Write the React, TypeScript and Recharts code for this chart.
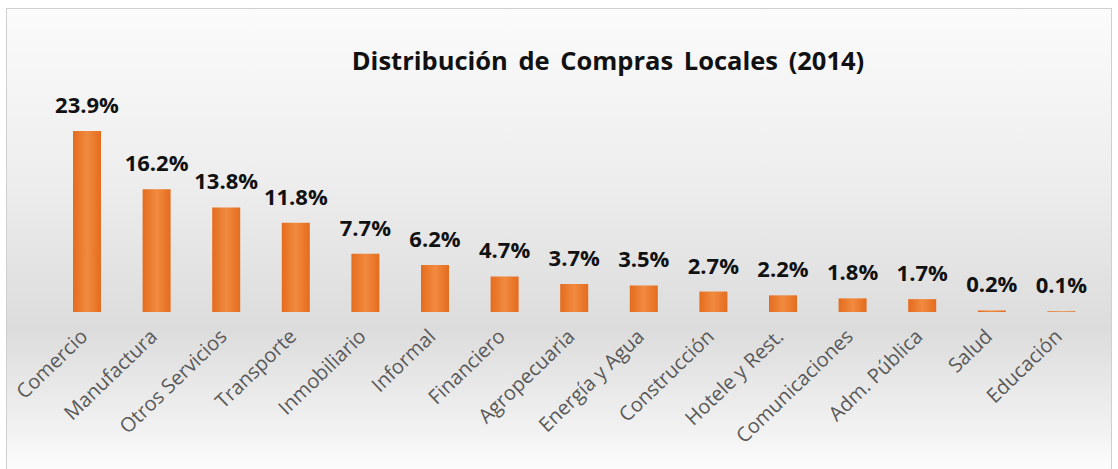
import { BarChart, Bar, XAxis, YAxis, LabelList } from 'recharts';

const CATEGORIES = [
  'Comercio', 'Manufactura', 'Otros Servicios', 'Transporte', 'Inmobiliario',
  'Informal', 'Financiero', 'Agropecuaria', 'Energía y Agua', 'Construcción',
  'Hotele y Rest.', 'Comunicaciones', 'Adm. Pública', 'Salud', 'Educación',
];
const SHARES = [23.9, 16.2, 13.8, 11.8, 7.7, 6.2, 4.7, 3.7, 3.5, 2.7, 2.2, 1.8, 1.7, 0.2, 0.1];
const TITLE = 'Distribución de Compras Locales (2014)';

const data = CATEGORIES.map((name, i) => ({ name, value: SHARES[i] }));

const FONT = '"Open Sans", Lato, sans-serif';

function AngledTick(props: any) {
  const { x, y, payload } = props;
  return (
    <g transform={`translate(${x + 2},${y + 18})`}>
      <text textAnchor="end" transform="rotate(-44)" fontSize={20} fill="#595959" fontFamily={FONT}>
        {payload.value}
      </text>
    </g>
  );
}

export default function App() {
  return (
    <div style={{ position: 'absolute', left: 0, top: 0, width: 1118, height: 469 }}>
      <div
        style={{
          position: 'absolute', left: 6, top: 8, width: 1104, height: 470,
          border: '1px solid #cfcfcf',
          background: 'linear-gradient(to bottom, #fbfbfb 0%, #eeeeee 35%, #dcdcdc 68%, #f2f2f2 90%, #ffffff 100%)',
        }}
      />
      <div
        style={{
          position: 'absolute', left: 0, top: 43, width: 1216, textAlign: 'center',
          fontFamily: FONT, fontWeight: 700, fontSize: 25.5, color: '#111', wordSpacing: 4,
        }}
      >
        {TITLE}
      </div>
      <div style={{ position: 'absolute', left: 0, top: 0 }}>
        <BarChart
          width={1118}
          height={469}
          data={data}
          margin={{ top: 131, right: 22, bottom: 57, left: 52 }}
          barCategoryGap={21}
        >
          <defs>
            <linearGradient id="barFill" x1="0" y1="0" x2="1" y2="0">
              <stop offset="0%" stopColor="#E46C1E" />
              <stop offset="50%" stopColor="#F18A3F" />
              <stop offset="100%" stopColor="#E46C1E" />
            </linearGradient>
          </defs>
          <XAxis
            dataKey="name"
            interval={0}
            height={100}
            axisLine={false}
            tickLine={false}
            tick={<AngledTick />}
          />
          <YAxis hide domain={[0, 'dataMax']} />
          <Bar dataKey="value" fill="url(#barFill)" isAnimationActive={false}>
            <LabelList
              dataKey="value"
              position="top"
              offset={18}
              formatter={(v: any) => `${Number(v).toFixed(1)}%`}
              style={{ fontSize: 22, fontWeight: 700, fill: '#111', fontFamily: FONT }}
            />
          </Bar>
        </BarChart>
      </div>
    </div>
  );
}
